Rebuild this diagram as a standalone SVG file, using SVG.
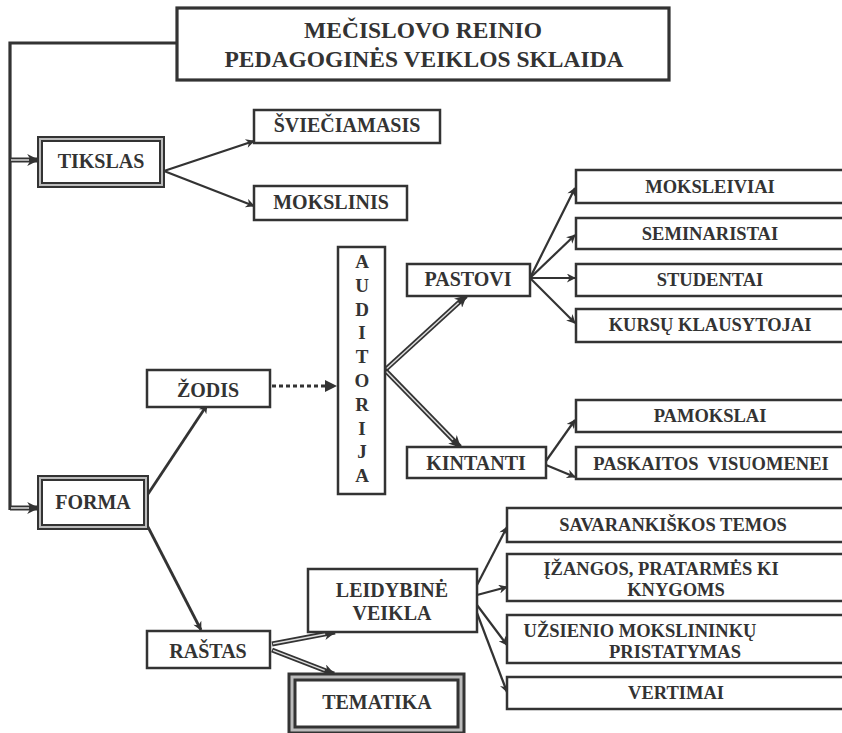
<svg xmlns="http://www.w3.org/2000/svg" width="842" height="733" viewBox="0 0 842 733">
<style>
.box{fill:#fff;stroke:#333;stroke-width:2.5}
.dbl{fill:#fff;stroke:#333;stroke-width:6}
.dbl2{fill:none;stroke:#bbb;stroke-width:2}
.t{font-family:"Liberation Serif","Times New Roman",serif;font-weight:bold;fill:#333;text-anchor:middle;font-size:20px}
.s{font-size:18.5px}
.ti{font-size:23.5px}
.v{font-size:19px}
.ln{fill:none;stroke:#333;stroke-width:2.2}
.dl{fill:none;stroke:#333;stroke-width:5}
.dli{fill:none;stroke:#ddd;stroke-width:1.5}
</style>
<defs>
<marker id="ah" viewBox="0 0 10 10" refX="9" refY="5" markerWidth="11" markerHeight="9" markerUnits="userSpaceOnUse" orient="auto"><path d="M0,0 L10,5 L0,10 L3,5 z" fill="#333"/></marker>
<marker id="ah2" viewBox="0 0 10 10" refX="9" refY="5" markerWidth="13" markerHeight="12" markerUnits="userSpaceOnUse" orient="auto"><path d="M0,0 L10,5 L0,10 L3,5 z" fill="#333"/></marker>
</defs>
<rect width="842" height="733" fill="#fff"/>

<g id="connectors">
  <path class="ln" style="stroke-width:3.2" d="M177,43 H10 V510"/>
  <path class="dl" d="M10,160 H38" marker-end="url(#ah2)"/>
  <path class="dli" d="M11,160 H29"/>
  <path class="dl" d="M10,508 H38" marker-end="url(#ah2)"/>
  <path class="dli" d="M11,508 H29"/>
  <path class="ln" d="M164,171 L254,141" marker-end="url(#ah)"/>
  <path class="ln" d="M164,171 L254,206" marker-end="url(#ah)"/>
  <path class="ln" style="stroke-width:2.8" d="M148,494 L207,405" marker-end="url(#ah)"/>
  <path class="ln" style="stroke-width:2.8" d="M148,527 L201,630" marker-end="url(#ah)"/>
  <path class="ln" style="stroke-width:3;stroke-dasharray:4 3" d="M272,386 H328"/>
  <path d="M325,380 L337,386 L325,392 z" fill="#333"/>
  <path class="dl" d="M385,370 L466,296" marker-end="url(#ah2)"/>
  <path class="dli" d="M386.5,368.7 L458.6,302.7"/>
  <path class="dl" d="M385,370 L460,447" marker-end="url(#ah2)"/>
  <path class="dli" d="M386.4,371.4 L453,439.8"/>
  <path class="ln" d="M530,278 L575,188" marker-end="url(#ah)"/>
  <path class="ln" d="M530,278 L575,235" marker-end="url(#ah)"/>
  <path class="ln" d="M530,278 L575,278" marker-end="url(#ah)"/>
  <path class="ln" d="M530,278 L575,323" marker-end="url(#ah)"/>
  <path class="ln" d="M546,461 L575,420" marker-end="url(#ah)"/>
  <path class="ln" d="M546,465 L575,477" marker-end="url(#ah)"/>
  <path class="dl" d="M272,644 L335,632" marker-end="url(#ah2)"/>
  <path class="dli" d="M273,643.8 L325.2,633.9"/>
  <path class="dl" d="M272,650 L334,674" marker-end="url(#ah2)"/>
  <path class="dli" d="M273,650.4 L324.7,670.4"/>
  <path class="ln" d="M477,585 L507,527" marker-end="url(#ah)"/>
  <path class="ln" d="M477,595 L507,587" marker-end="url(#ah)"/>
  <path class="ln" d="M477,605 L507,645" marker-end="url(#ah)"/>
  <path class="ln" d="M477,613 L507,692" marker-end="url(#ah)"/>
</g>

<g id="title">
  <rect class="box" style="stroke-width:3.2" x="177" y="8" width="492" height="72"/>
  <text class="t ti" x="423" y="38">MEČISLOVO REINIO</text>
  <text class="t ti" x="424" y="67">PEDAGOGINĖS VEIKLOS SKLAIDA</text>
</g>
<g id="tikslas">
  <rect class="dbl" x="40" y="139" width="122" height="46"/>
  <rect class="dbl2" x="40" y="139" width="122" height="46"/>
  <text class="t" x="101" y="168">TIKSLAS</text>
</g>
<g id="svieciamasis">
  <rect class="box" x="254" y="110" width="186" height="33"/>
  <text class="t" x="347" y="132">ŠVIEČIAMASIS</text>
</g>
<g id="mokslinis">
  <rect class="box" x="254" y="186" width="153" height="34"/>
  <text class="t" x="331" y="209">MOKSLINIS</text>
</g>
<g id="auditorija">
  <rect class="box" x="338" y="247" width="47" height="247"/>
  <text class="t v" x="362" y="268">A</text>
  <text class="t v" x="362" y="292">U</text>
  <text class="t v" x="362" y="316">D</text>
  <text class="t v" x="362" y="339">I</text>
  <text class="t v" x="362" y="363">T</text>
  <text class="t v" x="362" y="387">O</text>
  <text class="t v" x="362" y="411">R</text>
  <text class="t v" x="362" y="435">I</text>
  <text class="t v" x="362" y="458">J</text>
  <text class="t v" x="362" y="482">A</text>
</g>
<g id="pastovi">
  <rect class="box" x="407" y="264" width="123" height="32"/>
  <text class="t" x="468" y="286">PASTOVI</text>
</g>
<g id="moksleiviai">
  <rect class="box" x="576" y="170" width="272" height="33"/>
  <text class="t s" x="710" y="193">MOKSLEIVIAI</text>
</g>
<g id="seminaristai">
  <rect class="box" x="576" y="218" width="272" height="31"/>
  <text class="t s" x="710" y="240">SEMINARISTAI</text>
</g>
<g id="studentai">
  <rect class="box" x="576" y="264" width="272" height="32"/>
  <text class="t s" x="710" y="286">STUDENTAI</text>
</g>
<g id="kursu">
  <rect class="box" x="576" y="309" width="272" height="33"/>
  <text class="t s" x="710" y="331">KURSŲ KLAUSYTOJAI</text>
</g>
<g id="zodis">
  <rect class="box" x="147" y="370" width="123" height="37"/>
  <text class="t" x="208" y="397">ŽODIS</text>
</g>
<g id="kintanti">
  <rect class="box" x="407" y="447" width="139" height="31"/>
  <text class="t" x="476" y="470">KINTANTI</text>
</g>
<g id="pamokslai">
  <rect class="box" x="576" y="400" width="272" height="32"/>
  <text class="t s" x="710" y="422">PAMOKSLAI</text>
</g>
<g id="paskaitos">
  <rect class="box" x="576" y="447" width="272" height="32"/>
  <text class="t s" x="711" y="470" style="white-space:pre">PASKAITOS  VISUOMENEI</text>
</g>
<g id="forma">
  <rect class="dbl" x="40" y="478" width="106" height="49"/>
  <rect class="dbl2" x="40" y="478" width="106" height="49"/>
  <text class="t" x="93" y="509">FORMA</text>
</g>
<g id="rastas">
  <rect class="box" x="147" y="631" width="123" height="37"/>
  <text class="t" x="208" y="658">RAŠTAS</text>
</g>
<g id="leidybine">
  <rect class="box" x="308" y="569" width="169" height="63"/>
  <text class="t" x="392" y="597">LEIDYBINĖ</text>
  <text class="t" x="392" y="620">VEIKLA</text>
</g>
<g id="tematika">
  <rect x="292" y="677" width="169" height="53" fill="#fff" stroke="#333" stroke-width="9"/>
  <rect x="292" y="677" width="169" height="53" fill="none" stroke="#bbb" stroke-width="3"/>
  <text class="t" x="377" y="709">TEMATIKA</text>
</g>
<g id="savarankiskos">
  <rect class="box" x="507" y="508" width="341" height="34"/>
  <text class="t s" x="673" y="531">SAVARANKIŠKOS TEMOS</text>
</g>
<g id="izangos">
  <rect class="box" x="507" y="554" width="341" height="47"/>
  <text class="t s" x="661" y="575">ĮŽANGOS, PRATARMĖS KI</text>
  <text class="t s" x="676" y="596">KNYGOMS</text>
</g>
<g id="uzsienio">
  <rect class="box" x="507" y="615" width="341" height="48"/>
  <text class="t s" x="640" y="637">UŽSIENIO MOKSLININKŲ</text>
  <text class="t s" x="675" y="658">PRISTATYMAS</text>
</g>
<g id="vertimai">
  <rect class="box" x="507" y="677" width="341" height="32"/>
  <text class="t s" x="676" y="699">VERTIMAI</text>
</g>
</svg>
